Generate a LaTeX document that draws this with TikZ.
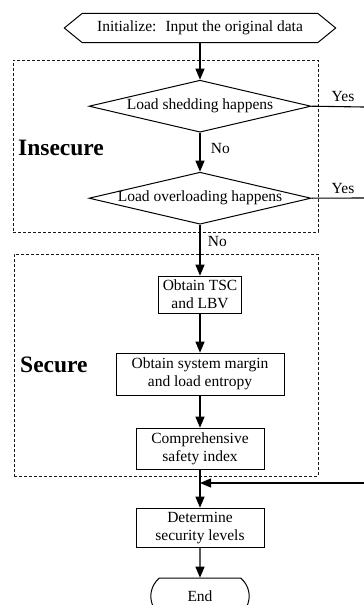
\documentclass[tikz,border=0pt]{standalone}
\usepackage{fontspec}
\setmainfont{Liberation Serif}
\usetikzlibrary{arrows.meta, positioning, shapes.geometric, shapes.misc, calc}

\tikzset{
    flow/.style={draw, line width=1.1pt, -{Triangle[length=11pt, width=9pt]}},
    stepbox/.style={rectangle, draw, line width=1pt, align=center, inner sep=2pt, font=\fontsize{15.5}{18}\selectfont},
    decision/.style={diamond, draw, line width=1pt, aspect=4.3, inner sep=0pt, text height=6pt, text depth=0pt, minimum width=222pt, minimum height=52pt, font=\fontsize{15.5}{18}\selectfont},
    groupbox/.style={rectangle, draw, dash pattern=on 3pt off 2pt, line width=0.7pt, gray!20!black},
    zone/.style={font=\fontsize{23.5}{26}\selectfont\bfseries, inner sep=0pt},
    tag/.style={font=\fontsize{15.5}{18}\selectfont}
}

\begin{document}
\begin{tikzpicture}[x=1pt, y=1pt]
    \useasboundingbox (0,0) rectangle (364,-605);

    \node (insecure) [groupbox, minimum width=305pt, minimum height=172pt] at (165.5,-146) {};
    \node (secure) [groupbox, minimum width=304pt, minimum height=222pt] at (166,-365) {};
    \node (insecurelbl) [zone, anchor=base west] at (18,-155) {Insecure};
    \node (securelbl) [zone, anchor=base west] at (20,-372) {Secure};

    \node (init) [minimum width=235pt, minimum height=29pt, inner sep=0pt, font=\fontsize{15.5}{18}\selectfont] at (200,-28) {Initialize:~ Input the original data};
    \draw[line width=1pt] (init.north west) -- (init.north east) -- ($(init.east)+(18,0)$) -- (init.south east) -- (init.south west) -- ($(init.west)+(-18,0)$) -- cycle;

    \node (shed) [decision, below=37pt of init] {Load shedding happens};
    \node (over) [decision, below=39pt of shed] {Load overloading happens};
    \node (tsc) [stepbox, below=51pt of over, minimum width=83pt, minimum height=37pt] {Obtain TSC\\and LBV};
    \node (margin) [stepbox, below=39pt of tsc, minimum width=168pt, minimum height=42pt] {Obtain system margin\\and load entropy};
    \node (index) [stepbox, below=32pt of margin, minimum width=128pt, minimum height=41pt] {Comprehensive\\safety index};
    \node (levels) [stepbox, below=38pt of index, minimum width=128pt, minimum height=39pt] {Determine\\security levels};
    \node (stop) [rounded rectangle, rounded rectangle arc length=100, draw, line width=1pt, below=30pt of levels, minimum width=105pt, minimum height=36pt, font=\fontsize{15.5}{18}\selectfont] {End};

    \coordinate (shedout) at (364,-107);
    \coordinate (overout) at (364,-198);
    \coordinate (back) at (364,-483);
    \coordinate (join) at (200,-483);

    \draw[flow] (init) -- (shed);
    \draw[flow] (shed) -- node[tag, right, pos=0.4, xshift=7pt] {No} (over);
    \draw[flow] (over) -- node[tag, right, pos=0.33, xshift=4pt] {No} (tsc);
    \draw[flow] (tsc) -- (margin);
    \draw[flow] (margin) -- (index);
    \draw[flow] (index) -- (levels);
    \draw[flow] (levels) -- (stop);

    \draw[line width=1.1pt] (shed.east) -- node[tag, above, pos=0.6, yshift=1pt] {Yes} (shedout);
    \draw[line width=1.1pt] (over.east) -- node[tag, above, pos=0.6, yshift=1pt] {Yes} (overout);
    \draw[flow] (back) -- (join);
\end{tikzpicture}
\end{document}
